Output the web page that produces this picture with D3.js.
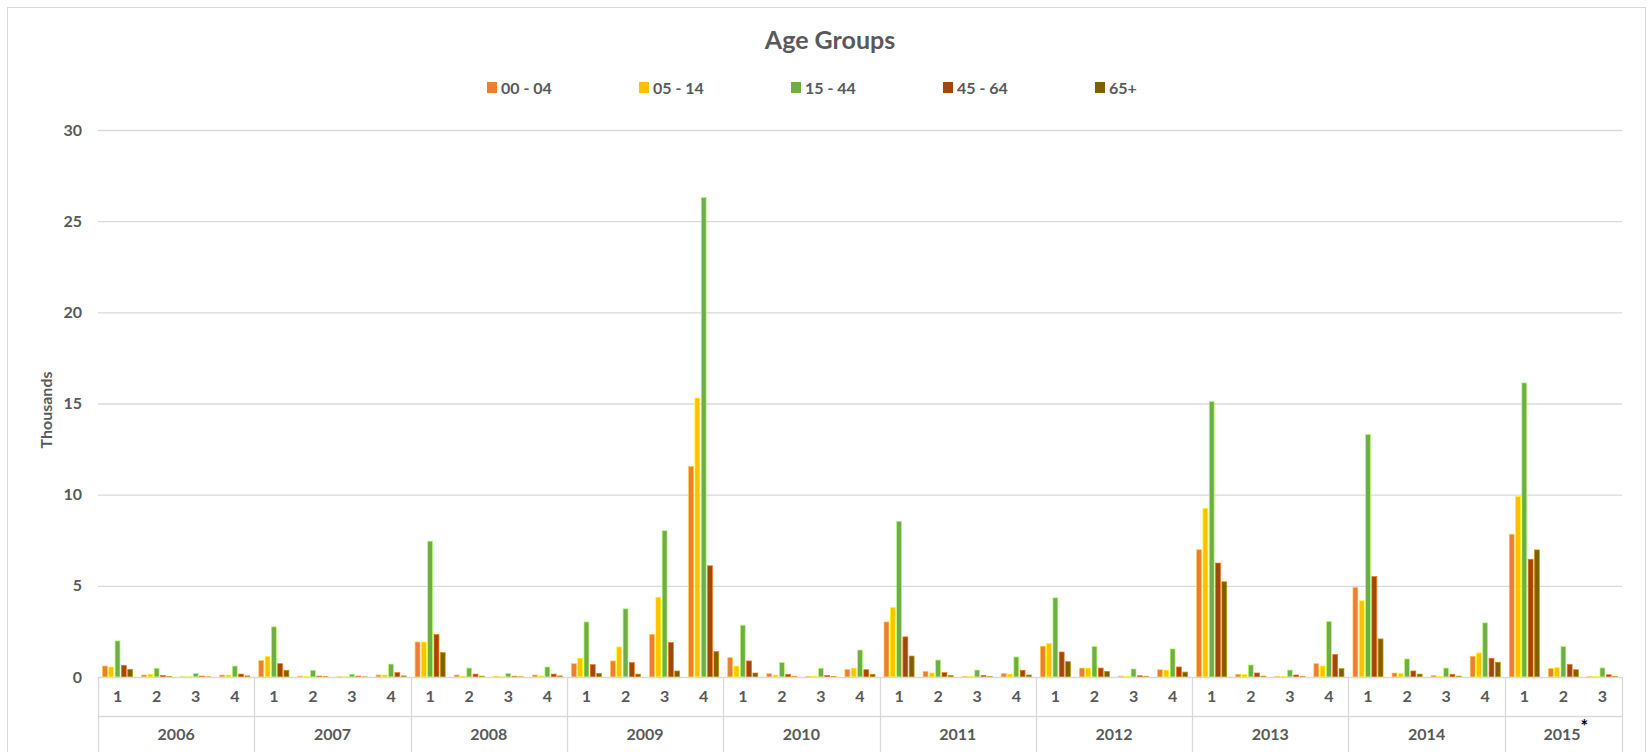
<!DOCTYPE html>
<html>
<head>
<meta charset="utf-8">
<script src="https://cdn.jsdelivr.net/npm/d3@7/dist/d3.min.js"></script>
<style>
  body { margin: 0; background: #fff; }
  text { font-family: Lato, 'Open Sans', sans-serif; font-weight: bold; fill: #595959; }
</style>
</head>
<body>
<svg width="1652" height="752"></svg>
<script>
// quarters per year (2015 only has 3)
var years = ['2006', '2007', '2008', '2009', '2010', '2011', '2012', '2013', '2014', '2015'];
var quarterLabels = ['1', '2', '3', '4'];
var quartersPerYear = [4, 4, 4, 4, 4, 4, 4, 4, 4, 3];
var seriesNames = ['00 - 04', '05 - 14', '15 - 44', '45 - 64', '65+'];
var colors = ['#ED7D31', '#FFC000', '#70AD47', '#9E480E', '#7F6000'];
var yTicks = [0, 5, 10, 15, 20, 25, 30];

// values in thousands, 2006 Q1 ... 2015 Q3
var age0004 = [0.60, 0.11, 0.01, 0.11,  0.90, 0.05, 0.01, 0.11,  1.92, 0.11, 0.03, 0.11,
  0.73, 0.88, 2.33, 11.55,  1.06, 0.18, 0.04, 0.42,  3.02, 0.31, 0.04, 0.20,
  1.69, 0.49, 0.05, 0.40,  6.98, 0.15, 0.04, 0.73,  4.91, 0.22, 0.09, 1.14,  7.83, 0.46, 0.02];
var age0514 = [0.55, 0.15, 0.01, 0.11,  1.12, 0.02, 0.01, 0.11,  1.92, 0.05, 0.01, 0.06,
  1.03, 1.65, 4.38, 15.3,  0.60, 0.11, 0.05, 0.49,  3.81, 0.22, 0.04, 0.16,
  1.85, 0.49, 0.03, 0.38,  9.25, 0.13, 0.02, 0.60,  4.18, 0.20, 0.05, 1.32,  9.90, 0.52, 0.02];
var age1544 = [1.98, 0.48, 0.20, 0.60,  2.75, 0.37, 0.15, 0.71,  7.45, 0.49, 0.20, 0.55,
  3.02, 3.74, 8.02, 26.3,  2.84, 0.79, 0.48, 1.48,  8.54, 0.93, 0.38, 1.10,
  4.34, 1.67, 0.44, 1.54,  15.1, 0.66, 0.38, 3.04,  13.3, 0.99, 0.49, 2.97,  16.13, 1.67, 0.50];
var age4564 = [0.64, 0.09, 0.05, 0.16,  0.73, 0.05, 0.05, 0.24,  2.33, 0.16, 0.04, 0.16,
  0.68, 0.79, 1.89, 6.10,  0.88, 0.15, 0.09, 0.40,  2.20, 0.24, 0.09, 0.37,
  1.37, 0.49, 0.07, 0.55,  6.25, 0.22, 0.11, 1.23,  5.51, 0.33, 0.15, 1.03,  6.46, 0.69, 0.12];
var age65 = [0.42, 0.02, 0.01, 0.06,  0.37, 0.02, 0.01, 0.06,  1.34, 0.05, 0.01, 0.06,
  0.20, 0.16, 0.33, 1.40,  0.22, 0.04, 0.02, 0.15,  1.15, 0.09, 0.02, 0.11,
  0.84, 0.31, 0.04, 0.27,  5.22, 0.05, 0.02, 0.46,  2.09, 0.16, 0.05, 0.81,  6.97, 0.40, 0.02];

var seriesValues = [age0004, age0514, age1544, age4564, age65];

var svg = d3.select('svg'),
    plotLeft = 98, plotRight = 1622, plotTop = 130, plotBottom = 677;

var keys = [];
years.forEach(function(y, i) {
  quarterLabels.slice(0, quartersPerYear[i]).forEach(function(q) { keys.push(y + '-' + q); });
});

var data = keys.map(function(k, i) {
  return {key: k, values: seriesNames.map(function(s, j) { return {name: s, value: seriesValues[j][i]}; })};
});

var x0 = d3.scaleBand().domain(keys).range([plotLeft, plotRight]).paddingInner(0.23).paddingOuter(0.115);
var x1 = d3.scaleBand().domain(seriesNames).range([0, x0.bandwidth()]).paddingInner(0.22);
var y = d3.scaleLinear().domain([0, 30]).range([plotBottom, plotTop]);
var color = d3.scaleOrdinal().domain(seriesNames).range(colors);

// chart border
svg.append('rect')
  .attr('x', 7.5).attr('y', 7.5).attr('width', 1638).attr('height', 770)
  .attr('fill', 'none').attr('stroke', '#D9D9D9');

// gridlines
svg.append('g')
  .attr('transform', 'translate(' + plotLeft + ',0)')
  .call(d3.axisLeft(y).tickValues(yTicks.slice(1)).tickSize(-(plotRight - plotLeft)).tickFormat(''))
  .call(function(g) { g.select('.domain').remove(); })
  .selectAll('line').attr('stroke', '#D9D9D9').attr('stroke-width', 1.3);

// y labels
svg.append('g')
  .attr('transform', 'translate(' + plotLeft + ',0)')
  .call(d3.axisLeft(y).tickValues(yTicks).tickSize(0).tickPadding(16))
  .call(function(g) { g.select('.domain').remove(); })
  .selectAll('text').style('font-size', '16px').attr('fill', '#595959');

svg.append('text')
  .attr('transform', 'translate(46,410) rotate(-90)')
  .attr('text-anchor', 'middle').attr('dy', '0.35em')
  .style('font-size', '16px')
  .text('Thousands');

// bars
var groups = svg.append('g').selectAll('g')
  .data(data)
  .enter().append('g')
  .attr('transform', function(d) { return 'translate(' + x0(d.key) + ',0)'; });

groups.selectAll('rect')
  .data(function(d) { return d.values; })
  .enter().append('rect')
  .attr('x', function(d) { return x1(d.name); })
  .attr('y', function(d) { return y(d.value); })
  .attr('width', x1.bandwidth())
  .attr('height', function(d) { return y(0) - y(d.value); })
  .attr('fill', function(d) { return color(d.name); })
  .attr('stroke', function(d) { return d3.color(color(d.name)).brighter(1.3); })
  .attr('stroke-width', 0.7);

// category axis
var axis = svg.append('g').attr('class', 'axis axis--x');
axis.append('line')
  .attr('x1', plotLeft).attr('x2', plotRight).attr('y1', plotBottom + 0.5).attr('y2', plotBottom + 0.5)
  .attr('stroke', '#D9D9D9').attr('stroke-width', 1.5);
axis.append('line')
  .attr('x1', plotLeft).attr('x2', plotRight).attr('y1', 716.5).attr('y2', 716.5)
  .attr('stroke', '#D9D9D9').attr('stroke-width', 1.3);

axis.append('g')
  .attr('transform', 'translate(0,' + plotBottom + ')')
  .call(d3.axisBottom(x0).tickSize(0).tickPadding(14).tickFormat(function(k) { return k.split('-')[1]; }))
  .call(function(g) { g.select('.domain').remove(); })
  .selectAll('text').style('font-size', '16px').attr('fill', '#595959');

var half = x0.step() * 0.115;
var yearStarts = [], yearEnds = [];
var idx = 0;
years.forEach(function(yr, i) {
  yearStarts.push(x0(keys[idx]) - half);
  idx += quartersPerYear[i];
  yearEnds.push(x0(keys[idx - 1]) + x0.bandwidth() + half);
});

axis.selectAll('.sep')
  .data(yearStarts.concat([plotRight]))
  .enter().append('line')
  .attr('class', 'sep')
  .attr('x1', function(d) { return Math.round(d) + 0.5; })
  .attr('x2', function(d) { return Math.round(d) + 0.5; })
  .attr('y1', plotBottom).attr('y2', 752)
  .attr('stroke', '#D9D9D9').attr('stroke-width', 1.3);

var yearText = axis.selectAll('.year')
  .data(years)
  .enter().append('text')
  .attr('class', 'year')
  .attr('x', function(d, i) { return (yearStarts[i] + yearEnds[i]) / 2; })
  .attr('y', 740)
  .attr('text-anchor', 'middle')
  .style('font-size', '16px')
  .text(function(d) { return d; });
yearText.filter(function(d) { return d === '2015'; })
  .attr('text-anchor', 'start')
  .attr('x', (yearStarts[9] + yearEnds[9]) / 2 - 20)
  .append('tspan').attr('dy', -7).style('font-size', '18px').attr('fill', '#000').text('*');

// title
svg.append('text')
  .attr('x', 830).attr('y', 49)
  .attr('text-anchor', 'middle')
  .style('font-size', '25px')
  .text('Age Groups');

// legend
var legend = svg.append('g').selectAll('g')
  .data(seriesNames)
  .enter().append('g')
  .attr('transform', function(d, i) { return 'translate(' + (487 + i * 152) + ',82)'; });
legend.append('rect')
  .attr('width', 10).attr('height', 11)
  .attr('fill', function(d) { return color(d); });
legend.append('text')
  .attr('x', 14).attr('y', 11.5)
  .style('font-size', '16px')
  .text(function(d) { return d; });
</script>
</body>
</html>
